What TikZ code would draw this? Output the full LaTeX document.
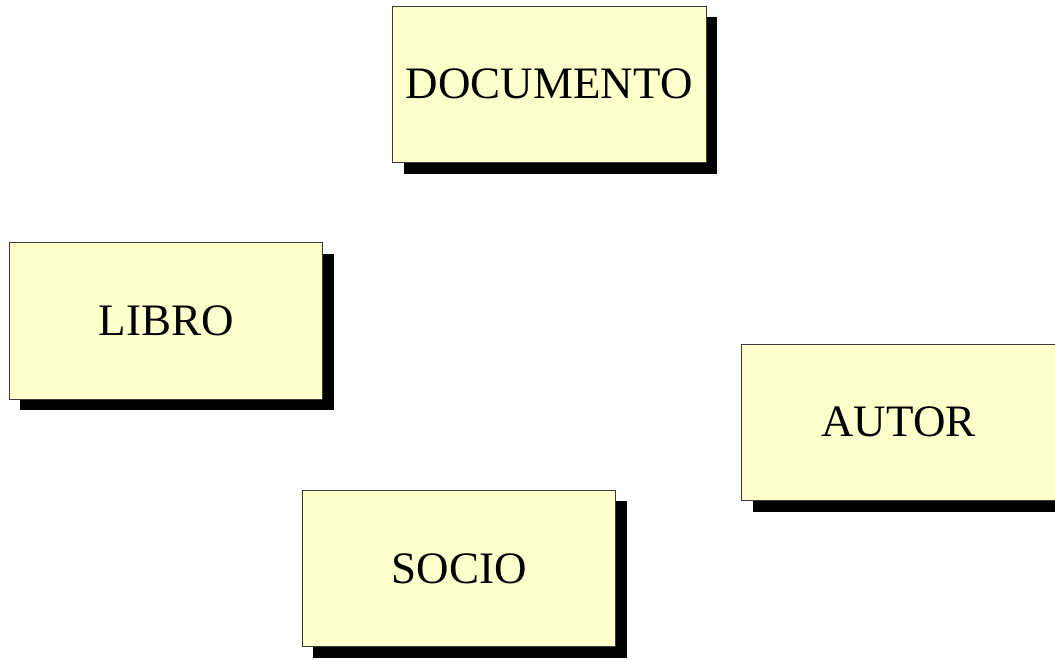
\documentclass[tikz,border=0pt]{standalone}
\usepackage{fontspec}
\setmainfont{Liberation Serif}
\usetikzlibrary{shadows}
\definecolor{boxfill}{HTML}{FFFFCC}
\definecolor{boxline}{HTML}{3A3A3A}
\tikzset{
  entity/.style={draw=boxline, line width=1pt, fill=boxfill,
    minimum width=313.5pt, minimum height=156.5pt, inner sep=0pt,
    font=\fontsize{45}{50}\selectfont,
    drop shadow={shadow xshift=11pt, shadow yshift=-11pt, opacity=1, fill=black}}
}
\begin{document}
\begin{tikzpicture}[x=1pt,y=-1pt]
\useasboundingbox (0,0) rectangle (1055,659);
\clip (0,0) rectangle (1055,659);
\node[entity] (documento) at (549.3,84.3) {DOCUMENTO};
\node[entity] (libro) at (166.2,321) {LIBRO};
\node[entity] (autor) at (898.5,422.3) {AUTOR};
\node[entity] (socio) at (459.2,568.7) {SOCIO};
\end{tikzpicture}
\end{document}
